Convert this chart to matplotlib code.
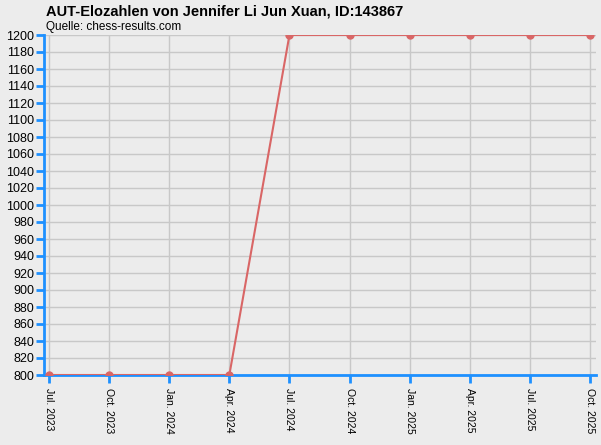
import matplotlib
matplotlib.use("Agg")
import matplotlib.pyplot as plt

# Elo-Verlauf
months = ["Jul. 2023", "Oct. 2023", "Jan. 2024", "Apr. 2024", "Jul. 2024",
          "Oct. 2024", "Jan. 2025", "Apr. 2025", "Jul. 2025", "Oct. 2025"]
elo = [800, 800, 800, 800, 1200, 1200, 1200, 1200, 1200, 1200]
y_ticks = list(range(800, 1201, 20))

bg = "#ececec"
blue = "#1e90ff"
red = "#d96666"

plt.rcParams['font.family'] = ['Liberation Sans', 'DejaVu Sans']

fig = plt.figure(figsize=(6.01, 4.45), dpi=100, facecolor=bg)
ax = fig.add_axes([44 / 601, 1 - 375 / 445, 552 / 601, 340 / 445])
ax.set_facecolor(bg)

x = list(range(len(months)))
ax.plot(x, elo, color=red, lw=1.5, marker="o", ms=5, mfc=red, mec=red, zorder=3)

step = 541 / 9
ax.set_xlim(-5 / step, 9 + 6 / step)
ax.set_ylim(800, 1200)
ax.set_xticks(x)
ax.set_xticklabels(months, rotation=270, fontsize=7.5)
ax.set_yticks(y_ticks)
ax.set_yticklabels([str(v) for v in y_ticks], fontsize=9)

ax.grid(True, color="#c8c8c8", lw=1)
ax.set_axisbelow(True)

for side in ["top", "right"]:
    ax.spines[side].set_visible(False)
for side in ["left", "bottom"]:
    ax.spines[side].set_color(blue)
    ax.spines[side].set_linewidth(2)
ax.tick_params(axis="both", colors=blue, length=6, width=2, direction="out")
ax.tick_params(axis="both", labelcolor="black")
ax.tick_params(axis="x", pad=3)
ax.tick_params(axis="y", pad=1)

fig.text(46 / 601, 1 - 11 / 445, "AUT-Elozahlen von Jennifer Li Jun Xuan, ID:143867",
         fontsize=10.5, fontweight="bold", va="center", ha="left")
fig.text(46 / 601, 1 - 27 / 445, "Quelle: chess-results.com",
         fontsize=8.5, va="center", ha="left")

fig.savefig("out.png", dpi=100, facecolor=bg)
